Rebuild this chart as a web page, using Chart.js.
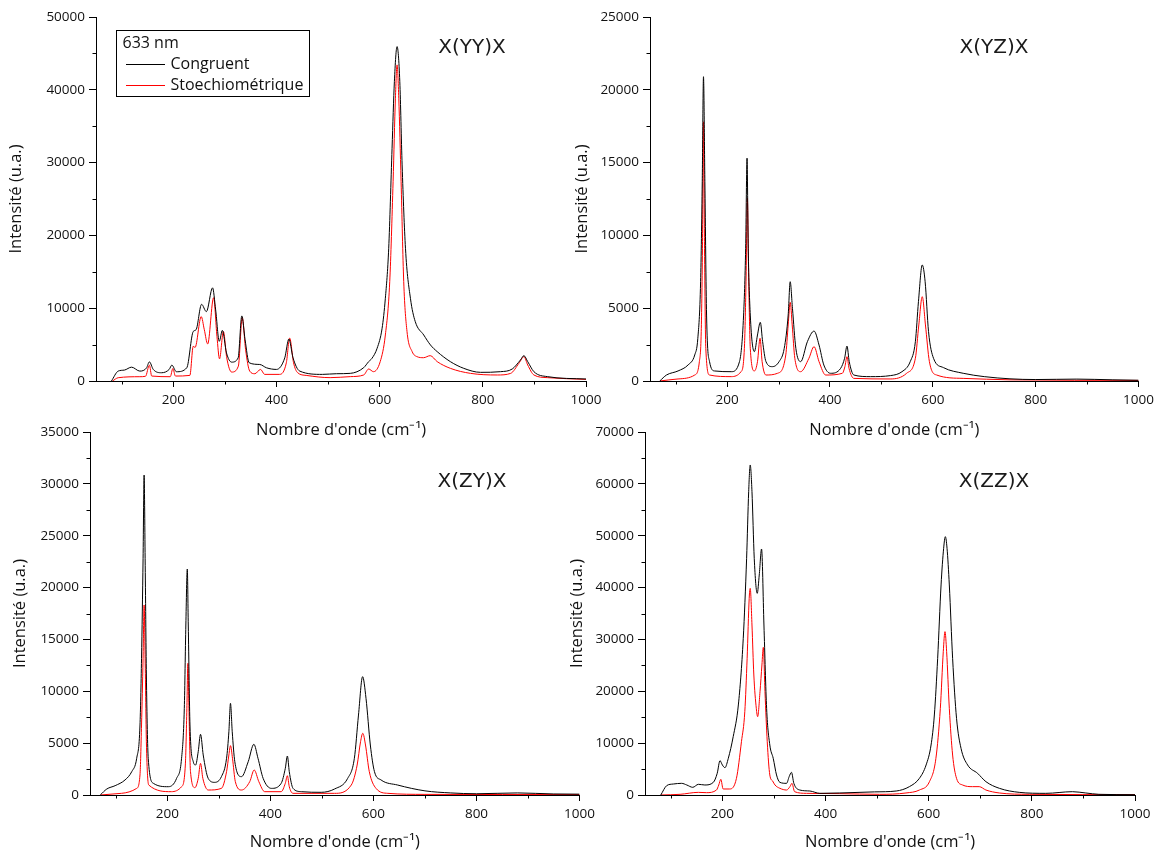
<!DOCTYPE html>
<html>
<head>
<meta charset="utf-8">
<script src="https://cdn.jsdelivr.net/npm/chart.js@4.4.1/dist/chart.umd.min.js"></script>
<style>
  body { margin: 0; background: #fff; width: 1159px; height: 854px; position: relative; overflow: hidden; }
  .panel { position: absolute; }
  .panel canvas { display: block; }
</style>
</head>
<body>
<div class="panel" style="left:0;top:0"><canvas id="yy" width="615" height="445"></canvas></div>
<div class="panel" style="left:570px;top:0"><canvas id="yz" width="589" height="445"></canvas></div>
<div class="panel" style="left:0;top:415px"><canvas id="zy" width="600" height="439"></canvas></div>
<div class="panel" style="left:565px;top:415px"><canvas id="zz" width="594" height="439"></canvas></div>
<script>
// wavenumber (cm-1), intensity (u.a.) pairs
const yyCongruent = [[80,0],[93,1360],[105,1500],[119,1900],[135,1360],[148,1800],[153.5,2630],[161,1590],[177,1135],[192,1600],[197,2180],[206,1270],[226,1816],[238.5,6800],[244,7040],[254.7,10530],[264,9530],[276,12800],[282,9760],[289,5450],[295,6950],[303,3860],[313,2590],[325.6,3180],[332.7,8940],[339,5675],[347,2500],[367.5,2270],[380.5,1816],[400,1590],[416,3180],[424,5770],[432,3180],[445,1360],[489,908],[516,1000],[543,1050],[569,1830],[578.6,2660],[585,3110],[595,4490],[604.7,7240],[611,11360],[617.5,18230],[624,31970],[628.5,41130],[633.7,45940],[639,41130],[643.5,29680],[650,18230],[659.6,11360],[669,8150],[685.4,6320],[698.4,4950],[711.5,4030],[737,2660],[763,1740],[795.5,1190],[834,1280],[857,1650],[873,2890],[879.6,3480],[887,2660],[899,1280],[925,600],[1000,275]];
const yyStoech = [[82,0],[93,450],[135,590],[146,650],[153.5,2180],[158,680],[194,590],[199,1725],[204,680],[232,770],[238.5,4770],[242,4600],[254,8850],[260,7040],[266.5,5085],[278,11440],[284.5,6130],[289.5,3040],[297,6800],[303.5,3180],[313,1226],[326,2040],[333.5,8720],[340,4310],[348,1360],[358,1000],[369,1590],[377,908],[406,908],[419,2500],[425.5,5900],[433,2500],[441,1135],[457.5,770],[504,460],[543,600],[569,825],[578.6,1650],[588,1280],[601,2660],[611,6320],[619.5,13650],[626,27390],[630.5,38840],[633.7,43420],[637,38840],[641.5,27390],[646.6,13650],[653,6780],[663,4030],[672.5,3340],[685,3200],[698,3480],[711.5,2660],[737,1740],[776,1050],[828,825],[854,1050],[870,2430],[879.6,3340],[887,2200],[899,825],[925,460],[1000,220]];

const yzCongruent = [[69,0],[82,410],[104.5,690],[124,1100],[137,1790],[143,2930],[148.4,6820],[151.6,13690],[154,20900],[156.7,13690],[160,4530],[165.8,1330],[175.5,690],[208,640],[224,1330],[232,4530],[236,9110],[238.7,15300],[241,9110],[245,4530],[253,2015],[259,3160],[264.5,4030],[269,2700],[275.5,1330],[288,985],[301,1330],[311,2240],[318.7,4530],[322.6,6820],[327,4990],[333.6,2240],[343,1330],[356,2700],[369,3430],[378.7,2470],[388,1100],[401,530],[420.7,870],[428.4,1560],[433,2400],[437.4,1330],[446.4,410],[478.7,300],[517.4,370],[540,640],[556,1330],[566,2700],[572,5450],[579.4,7970],[585,6820],[591.6,3390],[601.3,1560],[620.6,920],[659,530],[700,300],[750,150],[800,100],[880,130],[950,80],[1000,50]];
const yzStoech = [[69,0],[104.5,140],[137,410],[146,1330],[149.6,3390],[152,9110],[154,17800],[156,9110],[158.5,2240],[165.8,410],[208,300],[227,640],[233.5,2240],[236.7,6820],[239.3,12550],[242,6820],[245,2240],[253,690],[259,1330],[264,2930],[268,1330],[275.5,410],[298,530],[314,1790],[318.7,3850],[322.6,5400],[326.5,3850],[331.6,1560],[343,640],[359,1560],[369,2360],[378.7,1330],[391.6,410],[424,530],[429,985],[433,1670],[437,870],[446.4,180],[517,140],[549,530],[566,1560],[572.7,3850],[579.4,5790],[585.6,3850],[593.3,1330],[607.5,410],[659,180],[750,80],[1000,40]];

const zyCongruent = [[70,0],[82.6,580],[98.8,900],[118,1450],[131,2250],[140.6,3540],[147,6750],[150,13180],[153,22820],[155,30850],[157,22820],[159.4,11570],[163,3540],[173,1125],[202,800],[218,1600],[227.7,3540],[233,8360],[236,16390],[238.8,21790],[240.7,16390],[244,6750],[250.4,3210],[254.9,2890],[260,4180],[264.5,5850],[269.7,3860],[279.4,1600],[292,1220],[305,1770],[315,3540],[319.5,6100],[322.6,8840],[326,6100],[331,3210],[344,1770],[357,3210],[368,4890],[376,3540],[386,1600],[402,640],[421,1125],[429,2570],[433,3760],[436.7,2250],[444,640],[460,320],[498.7,260],[524.6,580],[550,1600],[563,3540],[571,7710],[579,11410],[585.6,9320],[594,4820],[602,2250],[614.8,1450],[647,960],[700,400],[750,200],[800,120],[880,200],[950,100],[1000,80]];
const zyStoech = [[70,0],[111,160],[140.6,640],[147,1930],[150,6750],[153,13180],[155,18320],[157,13180],[159.4,5140],[164,960],[208,320],[227.7,800],[235,2890],[238,8360],[240,12700],[242,8360],[245,2250],[253.6,710],[260,1600],[264.5,3050],[269,1600],[279.4,480],[305,640],[315,2250],[319.5,3860],[322.6,4760],[326.5,3540],[332,1290],[344,480],[360,1290],[368.6,2410],[377.6,1290],[389,320],[421,320],[429,1125],[433,1860],[436.7,800],[444,160],[524.6,160],[557,960],[568.4,2890],[575,5140],[579.4,5950],[584.6,4820],[592,2250],[605,640],[628,160],[700,60],[1000,40]];

const zzCongruent = [[80.6,0],[92,1800],[105,2120],[121,2250],[131,1930],[142.6,1480],[153.5,2060],[166,1930],[182.5,2440],[190,4180],[195.4,6620],[200,5790],[205,5270],[211.5,7070],[221,11250],[231,17360],[240.5,30210],[247,45640],[251,58500],[254,63640],[257.4,58500],[261.8,45640],[267.6,38890],[271.5,42420],[276,47440],[280.6,32780],[285.8,16710],[292,9640],[298.6,7070],[305,3860],[311.5,2440],[324.5,2250],[329.5,3540],[334,4370],[338.6,2250],[350,960],[369.6,770],[389,320],[427.7,390],[495,600],[537,770],[562.6,1610],[582,3210],[595,5790],[604.6,9640],[611,15430],[617.4,26350],[624,40500],[629,47570],[632.3,49820],[635.6,47570],[640,40500],[646.4,26350],[654,14780],[662.7,9000],[675.5,5790],[694.8,4180],[711,2570],[737,1290],[775.5,510],[827,320],[878.7,640],[904.6,390],[930,130],[1000,60]];
const zzStoech = [[80.6,0],[118,130],[153.5,510],[169,450],[188.6,960],[193,1930],[197,3020],[201.5,1160],[214.4,1160],[227.3,3210],[237,10280],[243.5,16070],[248,26350],[252,37920],[254,39850],[257.4,32780],[261,23140],[265.8,16710],[268.4,15100],[273,19930],[276.7,25070],[279.4,28480],[282.6,19930],[287,10280],[292,3860],[297.4,2700],[302,1930],[311.5,1290],[324.5,960],[331,1610],[335,2250],[340,640],[363,320],[427.7,260],[504.6,130],[556,390],[582,960],[601.5,2570],[614,7070],[622.6,16710],[628.3,27640],[631.6,31500],[634.8,27640],[640,16710],[646.4,7710],[654,3210],[665.7,1930],[685,1610],[698,1610],[711,960],[737,390],[795,130],[1000,60]];

// axis ticks
const xTicks = [200, 400, 600, 800, 1000];
const xMinor = [100, 300, 500, 700, 900];
const yyTicks = [0, 10000, 20000, 30000, 40000, 50000];
const yzTicks = [0, 5000, 10000, 15000, 20000, 25000];
const zyTicks = [0, 5000, 10000, 15000, 20000, 25000, 30000, 35000];
const zzTicks = [0, 10000, 20000, 30000, 40000, 50000, 60000, 70000];

const seriesNames = ['Congruent', 'Stoechiométrique'];
const seriesColors = ['#000000', '#ff0000'];

// halfway marks between labelled ticks
function between(ticks) {
    const out = [];
    for (let i = 1; i < ticks.length; i++) out.push((ticks[i - 1] + ticks[i]) / 2);
    return out;
}

Chart.defaults.font.family = '"Open Sans", sans-serif';
Chart.defaults.color = '#111';

const minorTicks = {
    id: 'minorTicks',
    afterDraw(chart, args, opts) {
        const {ctx, chartArea, scales} = chart;
        ctx.save();
        ctx.strokeStyle = '#000';
        ctx.lineWidth = 1;
        ctx.beginPath();
        opts.x.forEach(v => {
            const px = Math.round(scales.x.getPixelForValue(v)) + 0.5;
            ctx.moveTo(px, chartArea.bottom);
            ctx.lineTo(px, chartArea.bottom + opts.len);
        });
        opts.y.forEach(v => {
            const py = Math.round(scales.y.getPixelForValue(v)) + 0.5;
            ctx.moveTo(chartArea.left, py);
            ctx.lineTo(chartArea.left - opts.len, py);
        });
        ctx.stroke();
        ctx.restore();
    }
};

const panelTitle = {
    id: 'panelTitle',
    afterDraw(chart, args, opts) {
        const {ctx, chartArea} = chart;
        ctx.save();
        ctx.font = '20px "DejaVu Sans"';
        ctx.fillStyle = '#1a1a1a';
        ctx.textAlign = 'center';
        ctx.textBaseline = 'middle';
        ctx.fillText(opts.text, chartArea.left + opts.dx, chartArea.top + opts.dy);
        ctx.restore();
    }
};

const boxLegend = {
    id: 'boxLegend',
    afterDraw(chart, args, o) {
        if (!o.title) return;
        const {ctx, chartArea} = chart;
        const x = chartArea.left + o.dx, y = chartArea.top + o.dy;
        ctx.save();
        ctx.lineWidth = 1;
        ctx.strokeStyle = '#000';
        ctx.strokeRect(Math.round(x) + 0.5, Math.round(y) + 0.5, o.w, o.h);
        ctx.font = '16px "Open Sans"';
        ctx.textBaseline = 'middle';
        ctx.fillStyle = '#111';
        ctx.fillText(o.title, x + 6.5, y + 13);
        seriesNames.forEach((name, i) => {
            const ly = Math.round(y + 34 + i * 20.5) + 0.5;
            ctx.beginPath();
            ctx.strokeStyle = seriesColors[i];
            ctx.moveTo(x + 10, ly);
            ctx.lineTo(x + 49, ly);
            ctx.stroke();
            ctx.fillStyle = '#111';
            ctx.fillText(name, x + 54.5, ly);
        });
        ctx.restore();
    }
};

function toXY(pairs) {
    return pairs.map(p => ({x: p[0], y: p[1]}));
}

function panel(id, p) {
    new Chart(document.getElementById(id), {
        type: 'line',
        data: {
            datasets: [p.cong, p.stoe].map((series, i) => ({
                label: seriesNames[i],
                data: toXY(series),
                borderColor: seriesColors[i],
                backgroundColor: seriesColors[i],
                borderWidth: 1,
                pointRadius: 0,
                cubicInterpolationMode: 'monotone'
            }))
        },
        options: {
            responsive: false,
            animation: false,
            events: [],
            layout: { padding: p.pad },
            plugins: {
                legend: { display: false },
                tooltip: { enabled: false },
                minorTicks: { x: xMinor, y: between(p.yTicks), len: 3.5 },
                panelTitle: { text: p.title, dx: p.titleAt[0], dy: p.titleAt[1] },
                boxLegend: p.legend || {}
            },
            scales: {
                x: {
                    type: 'linear', min: 50, max: 1000,
                    afterFit: s => { s.height = p.xHeight; },
                    afterBuildTicks: s => { s.ticks = xTicks.map(v => ({value: v})); },
                    ticks: { callback: v => String(v), font: {size: 13.5}, padding: 5, maxRotation: 0, autoSkip: false },
                    grid: { drawOnChartArea: false, tickLength: 6, color: '#000' },
                    border: { color: '#000' },
                    title: { display: true, text: "Nombre d'onde (cm⁻¹)", font: {size: 16.5}, padding: {top: 0, bottom: p.xTitlePad} }
                },
                y: {
                    min: 0, max: p.yTicks[p.yTicks.length - 1],
                    afterFit: s => { s.width = p.yWidth; },
                    afterBuildTicks: s => { s.ticks = p.yTicks.map(v => ({value: v})); },
                    ticks: { callback: v => String(v), font: {size: 13.5}, padding: 4, autoSkip: false },
                    grid: { drawOnChartArea: false, tickLength: 7, color: '#000' },
                    border: { color: '#000' },
                    title: { display: true, text: 'Intensité (u.a.)', font: {size: 16.5}, padding: {top: p.yTitlePad, bottom: 0} }
                }
            }
        },
        plugins: [minorTicks, panelTitle, boxLegend]
    });
}

panel('yy', {
    cong: yyCongruent, stoe: yyStoech, yTicks: yyTicks, title: 'X(YY)X', titleAt: [376, 31],
    pad: {left: 0, top: 17, right: 29, bottom: 0}, yWidth: 96, xHeight: 64, xTitlePad: 5, yTitlePad: 6,
    legend: { title: '633 nm', dx: 20, dy: 13, w: 193, h: 66 }
});
panel('yz', {
    cong: yzCongruent, stoe: yzStoech, yTicks: yzTicks, title: 'X(YZ)X', titleAt: [344, 31],
    pad: {left: 0, top: 17, right: 18, bottom: 0}, yWidth: 80, xHeight: 64, xTitlePad: 5, yTitlePad: 2
});
panel('zy', {
    cong: zyCongruent, stoe: zyStoech, yTicks: zyTicks, title: 'X(ZY)X', titleAt: [382, 50],
    pad: {left: 0, top: 17, right: 20, bottom: 0}, yWidth: 90, xHeight: 59, xTitlePad: 2, yTitlePad: 10
});
panel('zz', {
    cong: zzCongruent, stoe: zzStoech, yTicks: zzTicks, title: 'X(ZZ)X', titleAt: [349, 50],
    pad: {left: 0, top: 17, right: 24, bottom: 0}, yWidth: 80, xHeight: 59, xTitlePad: 2, yTitlePad: 2
});
</script>
</body>
</html>
